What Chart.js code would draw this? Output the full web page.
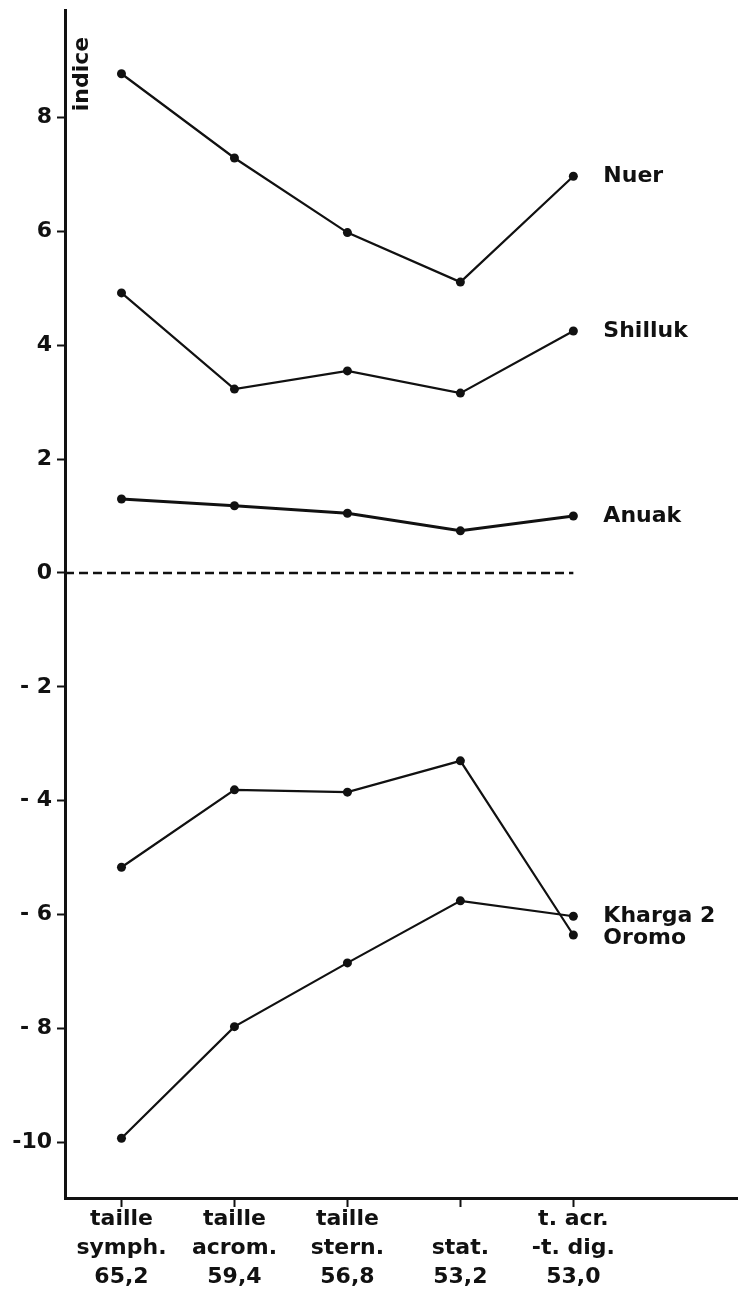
<!DOCTYPE html>
<html>
<head>
<meta charset="utf-8">
<script src="https://cdn.jsdelivr.net/npm/chart.js@4"></script>
<style>
  body { margin: 0; background: #fff; }
  canvas { display: block; }
</style>
</head>
<body>
<canvas id="indices" width="742" height="1294"></canvas>
<script>
// categories (one multi-line label each), placed at x = 1..5
var xPos = [1, 2, 3, 4, 5];
var xLabels = [
  ["taille", "symph.", "65,2"],
  ["taille", "acrom.", "59,4"],
  ["taille", "stern.", "56,8"],
  ["", "stat.", "53,2"],
  ["t. acr.", "-t. dig.", "53,0"]
];
var yTicks = [-10, -8, -6, -4, -2, 0, 2, 4, 6, 8];

// series values
var nuer    = [8.77, 7.29, 5.98, 5.11, 6.97];
var shilluk = [4.92, 3.23, 3.55, 3.16, 4.25];
var anuak   = [1.30, 1.18, 1.05, 0.74, 1.00];
var oromo   = [-5.17, -3.81, -3.85, -3.30, -6.36];
var kharga2 = [-9.93, -7.97, -6.85, -5.76, -6.03];

var seriesNames = ["Nuer", "Shilluk", "Anuak", "Oromo", "Kharga 2"];
var seriesData = [nuer, shilluk, anuak, oromo, kharga2];
var lineWidths = [2.2, 2.2, 3, 2.2, 2.2];

var ink = "#111";
Chart.defaults.font.family = "'DejaVu Sans', sans-serif";
Chart.defaults.font.weight = "bold";
Chart.defaults.color = ink;

function pts(arr) {
  return arr.map(function (v, i) { return { x: xPos[i], y: v }; });
}

var datasets = seriesData.map(function (arr, i) {
  return {
    label: seriesNames[i],
    data: pts(arr),
    borderColor: ink,
    backgroundColor: ink,
    borderWidth: lineWidths[i],
    pointRadius: 4.5,
    pointBorderWidth: 0,
    fill: false
  };
});
// dashed zero line, from the axis to the last category
datasets.push({
  label: "zero",
  data: [{ x: 0.5, y: 0 }, { x: 5, y: 0 }],
  borderColor: ink,
  borderWidth: 2.5,
  borderDash: [9, 5],
  pointRadius: 0,
  fill: false
});

var seriesLabels = {
  id: "seriesLabels",
  afterDatasetsDraw: function (chart) {
    var ctx = chart.ctx;
    var xs = chart.scales.x, ys = chart.scales.y;
    ctx.save();
    ctx.fillStyle = ink;
    ctx.font = "bold 22px 'DejaVu Sans'";
    ctx.textBaseline = "middle";
    ctx.textAlign = "left";
    seriesData.forEach(function (arr, i) {
      var last = arr[arr.length - 1];
      var y = ys.getPixelForValue(last);
      if (seriesNames[i] == "Oromo") y += 3;
      ctx.fillText(seriesNames[i], xs.getPixelForValue(5) + 30, y);
    });
    // rotated axis title next to the top of the axis
    ctx.translate(chart.chartArea.left + 17, chart.chartArea.top + 64);
    ctx.rotate(-Math.PI / 2);
    ctx.textAlign = "center";
    ctx.fillText("indice", 0, 0);
    ctx.restore();
  }
};

var chart = new Chart("indices", {
  type: "line",
  data: { datasets: datasets },
  plugins: [seriesLabels],
  options: {
    responsive: false,
    animation: false,
    layout: { padding: { top: 10, left: 0, right: 0, bottom: 0 } },
    plugins: { legend: { display: false }, tooltip: { enabled: false } },
    scales: {
      x: {
        type: "linear",
        min: 0.5,
        max: 6.453,
        afterBuildTicks: function (scale) {
          scale.ticks = xPos.map(function (v) { return { value: v }; });
        },
        afterFit: function (scale) {
          scale.height = 96;
          scale.paddingLeft = 0; scale.paddingRight = 0;
        },
        ticks: {
          autoSkip: false,
          maxRotation: 0,
          padding: -2,
          font: { size: 22, lineHeight: "29px" },
          callback: function (v) { return xLabels[v - 1]; }
        },
        grid: { drawOnChartArea: false, tickLength: 9, tickWidth: 2, color: ink },
        border: { display: true, width: 3, color: ink }
      },
      y: {
        min: -10.98,
        max: 9.89,
        afterBuildTicks: function (scale) {
          scale.ticks = yTicks.map(function (v) { return { value: v }; });
        },
        afterFit: function (scale) {
          scale.width = 65;
          scale.paddingTop = 0; scale.paddingBottom = 0;
        },
        ticks: {
          padding: 5,
          font: { size: 22 },
          callback: function (v) {
            if (v < 0 && v > -10) return "- " + (-v);
            return String(v);
          }
        },
        grid: { drawOnChartArea: false, tickLength: 8, tickWidth: 2, color: ink },
        border: { display: true, width: 3, color: ink }
      }
    }
  }
});
</script>
</body>
</html>
